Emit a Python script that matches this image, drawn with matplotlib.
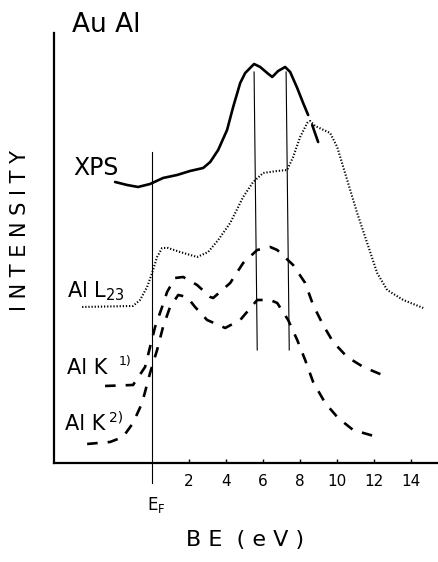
import matplotlib.pyplot as plt

# binding energy (eV) and intensity (arbitrary units)
xps_be = [-2.0, -1.35, -0.76, -0.11, 0.59, 1.35, 2.05, 2.76, 3.14, 3.57, 4.05, 4.38,
          4.76, 5.03, 5.51, 5.84, 6.22, 6.49, 6.81, 7.19, 7.46, 7.84, 8.16, 8.43]
xps_int = [281, 278, 276, 279, 285, 288, 292, 295, 301, 313, 333, 356,
           380, 390, 399, 396, 390, 386, 392, 396, 391, 375, 360, 348]
xps_tail_be = [8.65, 8.97]
xps_tail_int = [338, 321]

l23_be = [-3.78, -1.03, -0.65, -0.27, 0.0, 0.27, 0.54, 0.86, 1.51, 2.43, 3.03, 3.57,
          4.22, 4.92, 5.46, 6.0, 6.76, 7.3, 7.62, 8.0, 8.38, 8.54, 8.81, 9.62,
          10.0, 10.54, 11.08, 11.62, 12.16, 12.7, 13.57, 14.65]
l23_int = [156, 157, 163, 176, 190, 206, 215, 215, 211, 206, 211, 223,
           240, 266, 281, 290, 292, 293, 306, 326, 340, 342, 337, 330,
           316, 283, 250, 220, 190, 173, 163, 155]

k1_be = [-2.54, -1.03, -0.38, -0.11, 0.16, 0.54, 0.81, 1.24, 1.68, 2.43, 3.14, 3.3,
         4.22, 4.92, 5.68, 6.38, 6.76, 7.62, 8.27, 8.7, 9.24, 9.78, 10.54, 11.41, 12.7]
k1_int = [77, 78, 96, 116, 136, 156, 171, 185, 186, 178, 166, 165,
          180, 200, 213, 216, 213, 198, 180, 158, 138, 121, 106, 96, 86]

k2_be = [-3.51, -2.27, -1.57, -1.03, -0.54, -0.11, 0.27, 0.59, 0.97, 1.41, 1.89, 2.32,
         2.97, 3.95, 4.76, 5.68, 6.38, 6.76, 7.35, 7.84, 8.27, 8.7, 9.35, 10.05, 10.86, 12.16]
k2_int = [19, 21, 26, 40, 60, 90, 113, 136, 156, 168, 166, 156,
          143, 135, 143, 163, 163, 160, 143, 123, 103, 81, 60, 45, 33, 26]

ticks = [2, 4, 6, 8, 10, 12, 14]

fig = plt.figure(figsize=(4.38, 5.62), dpi=100)
ax = fig.add_axes([0.1233, 0.1762, 0.8747, 0.7651])
ax.set_xlim(-5.3, 15.4)
ax.set_ylim(0, 430)

ax.plot(xps_be, xps_int, color='black', lw=1.9, solid_capstyle='round', solid_joinstyle='round')
ax.plot(xps_tail_be, xps_tail_int, color='black', lw=1.9, solid_capstyle='round')
ax.plot(l23_be, l23_int, color='black', lw=1.5, ls=(0, (0.6, 0.9)))
ax.plot(k1_be, k1_int, color='black', lw=1.9, ls=(0, (4, 3.8)))
ax.plot(k2_be, k2_int, color='black', lw=1.9, ls=(0, (4, 3.8)))

# reference lines: Fermi level and the two XPS maxima
ax.plot([0, 0], [311, -20], color='black', lw=0.8, clip_on=False)
ax.plot([5.51, 5.68], [391, 113], color='black', lw=0.8)
ax.plot([7.24, 7.41], [391, 113], color='black', lw=0.8)

for s in ['top', 'right']:
    ax.spines[s].set_visible(False)
ax.spines['left'].set_linewidth(1.6)
ax.spines['bottom'].set_linewidth(1.6)
ax.set_yticks([])
ax.set_xticks(ticks)
ax.set_xticklabels([str(t) for t in ticks], fontsize=11)
ax.tick_params(axis='x', direction='in', length=3, width=1, pad=8)

ax.text(0.25, -42, r'E$_\mathregular{F}$', fontsize=12, ha='center', va='center')

fig.text(0.165, 0.955, 'Au Al', fontsize=19, ha='left', va='center')
ax.text(-3.05, 295, 'XPS', fontsize=17, ha='center', va='center')
ax.text(-4.6, 172, r'Al L$_\mathregular{23}$', fontsize=15, ha='left', va='center')
ax.text(-4.6, 95, 'Al K', fontsize=15, ha='left', va='center')
ax.text(-1.45, 101, '1)', fontsize=9, ha='center', va='center')
ax.text(-4.7, 39, 'Al K', fontsize=15, ha='left', va='center')
ax.text(-1.95, 45, '2)', fontsize=10, ha='center', va='center')

fig.text(0.045, 0.59, 'I N T E N S I T Y', fontsize=15, rotation=90,
         ha='center', va='center')
fig.text(0.56, 0.04, 'B E  ( e V )', fontsize=16, ha='center', va='center')

fig.savefig('out.png', dpi=100)
